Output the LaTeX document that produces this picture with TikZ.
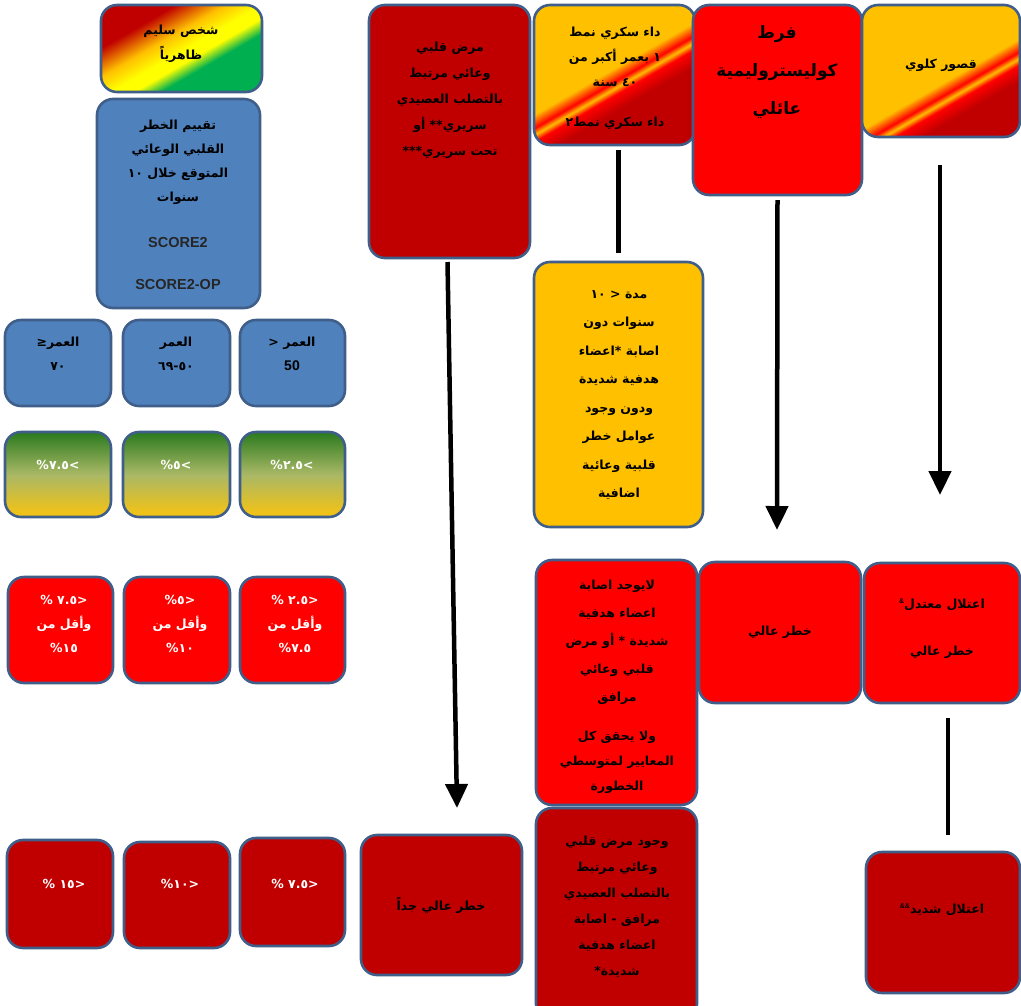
\documentclass[tikz,border=0pt]{standalone}
\usepackage{fontspec}
\setmainfont{DejaVu Sans}
\newfontfamily\arf[Script=Arabic]{DejaVu Sans}
\newfontfamily\latf{Liberation Sans}
\TeXXeTstate=1
\usetikzlibrary{arrows.meta}
\newcommand{\arl}[1]{\beginR #1\endR}
\newcommand{\supamp}[1]{\raisebox{5pt}{\latf\bfseries\fontsize{7}{7}\selectfont #1}}
\definecolor{bord}{HTML}{3F5F8A}
\definecolor{bluebox}{HTML}{4F81BD}
\definecolor{dred}{HTML}{C00000}
\definecolor{bred}{HTML}{FF0000}
\definecolor{amber}{HTML}{FFC000}
\definecolor{ggreen}{HTML}{00B050}
\definecolor{dkgreen}{HTML}{2A7A1E}
\definecolor{olive}{HTML}{A9B866}
\definecolor{gyel}{HTML}{EFC21A}
\pgfdeclarehorizontalshading{healthy}{100bp}{color(0bp)=(dred); color(32bp)=(dred); color(43bp)=(amber); color(51bp)=(yellow); color(56bp)=(yellow); color(62bp)=(ggreen); color(100bp)=(ggreen)}
\pgfdeclarehorizontalshading{dmshade}{100bp}{color(0bp)=(amber); color(48bp)=(amber); color(52bp)=(bred); color(54bp)=(amber); color(56bp)=(bred); color(61bp)=(dred); color(100bp)=(dred)}
\pgfdeclarehorizontalshading{ckdshade}{100bp}{color(0bp)=(amber); color(54bp)=(amber); color(58bp)=(bred); color(60bp)=(amber); color(62bp)=(bred); color(67bp)=(dred); color(100bp)=(dred)}
\pgfdeclareverticalshading{lowrisk}{100bp}{color(0bp)=(gyel); color(28bp)=(gyel); color(50bp)=(olive); color(75bp)=(dkgreen); color(100bp)=(dkgreen)}
\tikzset{
  bx/.style={draw=bord, line width=2.6pt, rounded corners=16pt, inner sep=0pt, outer sep=0pt, anchor=north west},
  artxt/.style={font=\arf\bfseries\fontsize{12.5}{24}\selectfont, align=center, inner sep=0pt, text=black},
  wtxt/.style={font=\arf\bfseries\fontsize{12.5}{24}\selectfont, align=center, inner sep=0pt, text=white},
  lattxt/.style={font=\latf\bfseries\fontsize{14.5}{18}\selectfont, inner sep=0pt, text=black!85},
  conn/.style={line width=4.5pt, black},
  arr/.style={conn, -{Triangle[width=22pt,length=24pt]}},
}
\begin{document}
\begin{tikzpicture}[x=1pt,y=-1pt]
\fill[white] (0,0) rectangle (1021,1005);
\useasboundingbox (0,0) rectangle (1021,1005);
% left column
\node[bx, shade, shading=healthy, shading angle=-60, minimum width=161pt, minimum height=87pt] (b1) at (101,5) {};
\node[bx, fill=bluebox, minimum width=163pt, minimum height=209pt] (b2) at (97,99) {};
\node[bx, fill=bluebox, minimum width=106pt, minimum height=86pt] (a70) at (5,320) {};
\node[bx, fill=bluebox, minimum width=107pt, minimum height=86pt] (a5069) at (123,320) {};
\node[bx, fill=bluebox, minimum width=105pt, minimum height=86pt] (a50) at (240,320) {};
\node[bx, shade, shading=lowrisk, minimum width=106pt, minimum height=85pt] (g1) at (5,432) {};
\node[bx, shade, shading=lowrisk, minimum width=107pt, minimum height=85pt] (g2) at (123,432) {};
\node[bx, shade, shading=lowrisk, minimum width=105pt, minimum height=85pt] (g3) at (240,432) {};
\node[bx, fill=bred, minimum width=105pt, minimum height=106pt] (r1) at (8,577) {};
\node[bx, fill=bred, minimum width=106pt, minimum height=106pt] (r2) at (124,577) {};
\node[bx, fill=bred, minimum width=105pt, minimum height=106pt] (r3) at (240,577) {};
\node[bx, fill=dred, minimum width=106pt, minimum height=108pt] (d1) at (7,840) {};
\node[bx, fill=dred, minimum width=106pt, minimum height=106pt] (d2) at (124,842) {};
\node[bx, fill=dred, minimum width=105pt, minimum height=108pt] (d3) at (240,838) {};
% top row
\node[bx, fill=dred, minimum width=161pt, minimum height=253pt] (cvd) at (369,5) {};
\node[bx, shade, shading=dmshade, shading angle=-60, minimum width=161pt, minimum height=140pt] (dm) at (534,5) {};
\node[bx, fill=bred, minimum width=169pt, minimum height=190pt] (fh) at (693,5) {};
\node[bx, shade, shading=ckdshade, shading angle=-60, minimum width=158pt, minimum height=132pt] (ckd) at (862,5) {};
% middle
\node[bx, fill=amber, minimum width=169pt, minimum height=265pt] (dur) at (534,262) {};
\node[bx, fill=bred, minimum width=161pt, minimum height=245pt] (tod) at (536,560) {};
\node[bx, fill=bred, minimum width=162pt, minimum height=141pt] (high) at (699,562) {};
\node[bx, fill=bred, minimum width=156pt, minimum height=140pt] (mod) at (864,563) {};
% bottom
\node[bx, fill=dred, minimum width=161pt, minimum height=140pt] (vh) at (361,835) {};
\node[bx, fill=dred, minimum width=161pt, minimum height=212pt] (cvd2) at (536,808) {};
\node[bx, fill=dred, minimum width=154pt, minimum height=141pt] (sev) at (866,852) {};

% texts
\node[artxt, font=\arf\bfseries\fontsize{12.5}{25}\selectfont] (t1) at (181,44) {\arl{شخص سليم}\\ \arl{ظاهرياً}};
\node[artxt] (t2) at (178,162) {\arl{تقييم الخطر}\\ \arl{القلبي الوعائي}\\ \arl{المتوقع خلال \hbox{١٠}}\\ \arl{سنوات}};
\node[lattxt] (t2b) at (178,243) {SCORE2};
\node[lattxt] (t2c) at (178,285) {SCORE2-OP};
\node[artxt] (ta70) at (58,354) {\arl{العمر\hbox{≤}}\\ \hbox{٧٠}};
\node[artxt] (ta5069) at (176,354) {\arl{العمر}\\ \hbox{٦٩}\hbox{-}\hbox{٥٠}};
\node[artxt] (ta50) at (292,354) {\arl{العمر \hbox{<}}\\ {\latf\bfseries\fontsize{14}{15}\selectfont 50}};
\node[wtxt] (tg1) at (58,465) {\hbox{\%}\hbox{٧.٥}\hbox{>}};
\node[wtxt] (tg2) at (176,465) {\hbox{\%}\hbox{٥}\hbox{>}};
\node[wtxt] (tg3) at (292,465) {\hbox{\%}\hbox{٢.٥}\hbox{>}};
\node[wtxt] (tr1) at (64,624) {\hbox{\%}\ \hbox{٧.٥}\hbox{<}\\ \arl{وأقل من}\\ \hbox{\%}\hbox{١٥}};
\node[wtxt] (tr2) at (180,624) {\hbox{\%}\hbox{٥}\hbox{<}\\ \arl{وأقل من}\\ \hbox{\%}\hbox{١٠}};
\node[wtxt] (tr3) at (295,624) {\hbox{\%}\ \hbox{٢.٥}\hbox{<}\\ \arl{وأقل من}\\ \hbox{\%}\hbox{٧.٥}};
\node[wtxt] (td1) at (64,884) {\hbox{\%}\ \hbox{١٥}\hbox{<}};
\node[wtxt] (td2) at (180,884) {\hbox{\%}\hbox{١٠}\hbox{<}};
\node[wtxt] (td3) at (295,884) {\hbox{\%}\ \hbox{٧.٥}\hbox{<}};
\node[artxt, font=\arf\bfseries\fontsize{12.5}{26}\selectfont] (tcvd) at (450,100) {\arl{مرض قلبي}\\ \arl{وعائي مرتبط}\\ \arl{بالتصلب العصيدي}\\ \arl{سريري\hbox{**} أو}\\ \arl{تحت سريري\hbox{***}}};
\node[artxt, font=\arf\bfseries\fontsize{12.5}{25}\selectfont] (tdm) at (615,57) {\arl{داء سكري نمط}\\ \arl{\hbox{١} بعمر أكبر من}\\ \arl{\hbox{٤٠} سنة}};
\node[artxt] (tdm2) at (615,123) {\arl{داء سكري نمط\hbox{٢}}};
\node[artxt, font=\arf\bfseries\fontsize{17}{38}\selectfont] (tfh) at (777,72) {\arl{فرط}\\ \arl{كوليستروليمية}\\ \arl{عائلي}};
\node[artxt] (tckd) at (941,65) {\arl{قصور كلوي}};
\node[artxt, font=\arf\bfseries\fontsize{12.5}{28.5}\selectfont] (tdur) at (619,395) {\arl{مدة \hbox{<} \hbox{١٠}}\\ \arl{سنوات دون}\\ \arl{اصابة \hbox{*}اعضاء}\\ \arl{هدفية شديدة}\\ \arl{ودون وجود}\\ \arl{عوامل خطر}\\ \arl{قلبية وعائية}\\ \arl{اضافية}};
\node[artxt, font=\arf\bfseries\fontsize{12.5}{28}\selectfont] (ttod) at (617,642) {\arl{لايوجد اصابة}\\ \arl{اعضاء هدفية}\\ \arl{شديدة \hbox{*} أو مرض}\\ \arl{قلبي وعائي}\\ \arl{مرافق}};
\node[artxt, font=\arf\bfseries\fontsize{12.5}{25}\selectfont] (ttod2) at (617,762) {\arl{ولا يحقق كل}\\ \arl{المعايير لمتوسطي}\\ \arl{الخطورة}};
\node[artxt] (thigh) at (780,632) {\arl{خطر عالي}};
\node[artxt] (tmod) at (942,605) {\arl{اعتلال معتدل\supamp{\&}}};
\node[artxt] (tmod2) at (942,652) {\arl{خطر عالي}};
\node[artxt] (tvh) at (441,905) {\arl{خطر عالي جداً}};
\node[artxt, font=\arf\bfseries\fontsize{12.5}{26}\selectfont] (tcvd2) at (617,907) {\arl{وجود مرض قلبي}\\ \arl{وعائي مرتبط}\\ \arl{بالتصلب العصيدي}\\ \arl{مرافق - اصابة}\\ \arl{اعضاء هدفية}\\ \arl{شديدة\hbox{*}}};
\node[artxt] (tsev) at (942,910) {\arl{اعتلال شديد\supamp{\&\&}}};

% connectors
\coordinate (c1e) at (457,808);
\coordinate (c2e) at (777,530);
\coordinate (c3e) at (940,495);
\draw[arr] ([xshift=-2pt,yshift=-4pt]cvd.south) -- (c1e);
\draw[arr] ([yshift=-5pt]fh.south) -- (c2e);
\draw[arr] ([xshift=-1pt,yshift=-28pt]ckd.south) -- (c3e);
\draw[conn] ([yshift=-5pt]dm.south -| dur.north) -- ([yshift=9pt]dur.north);
\draw[conn] ([xshift=6pt,yshift=-15pt]mod.south) -- ([xshift=5pt,yshift=17pt]sev.north);
\end{tikzpicture}
\end{document}
